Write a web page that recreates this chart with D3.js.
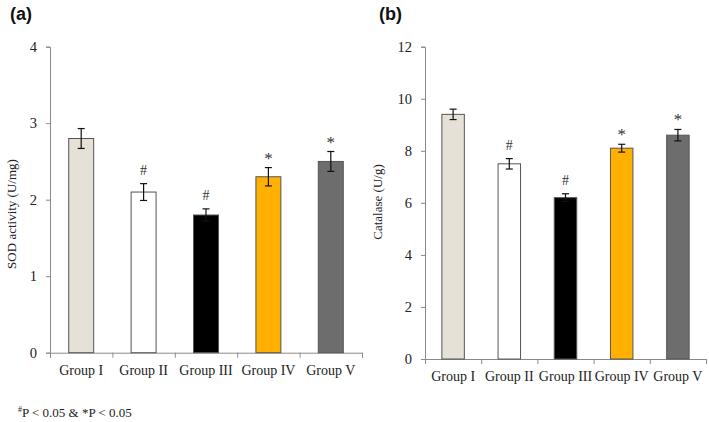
<!DOCTYPE html>
<html><head><meta charset="utf-8">
<script src="https://cdn.jsdelivr.net/npm/d3@7"></script>
<style>
body{margin:0;background:#fff;}
svg{display:block;}
</style></head>
<body>
<svg id="chart" width="709" height="422"></svg>
<script>
const categories = ["Group I","Group II","Group III","Group IV","Group V"];
const sodValues = [2.8, 2.1, 1.8, 2.3, 2.5];
const sodErrors = [0.13, 0.11, 0.08, 0.12, 0.13];
const sodMarks = ["", "#", "#", "*", "*"];
const sodTicks = [0,1,2,3,4];
const catValues = [9.4, 7.5, 6.2, 8.1, 8.6];
const catErrors = [0.2, 0.2, 0.15, 0.15, 0.22];
const catMarks = ["", "#", "#", "*", "*"];
const catTicks = [0,2,4,6,8,10,12];
const barColors = ["#e5e1d6","#ffffff","#000000","#ffb000","#6d6d6d"];

const svg = d3.select("#chart");
const serif = "'Liberation Serif', 'Times New Roman', serif";

function panel(opts){
  const g = svg.append("g");
  const x = d3.scaleBand().domain(categories).range([opts.x0, opts.x1]).paddingInner(0.6).paddingOuter(0.3);
  const y = d3.scaleLinear().domain([0, opts.ymax]).range([opts.yb, opts.yt]);
  const ya = g.append("g").attr("transform",`translate(${opts.x0},0)`)
    .call(d3.axisLeft(y).tickValues(opts.ticks).tickSize(4).tickPadding(9).tickFormat(d3.format("d")));
  ya.select(".domain").attr("stroke","#8a8a8a");
  ya.selectAll(".tick line").attr("stroke","#8a8a8a");
  ya.selectAll("text").attr("font-family",serif).attr("font-size",14.5).attr("fill","#222");
  const xs = d3.scaleLinear().domain([0,5]).range([opts.x0, opts.x1]);
  const xa = g.append("g").attr("transform",`translate(0,${opts.yb})`)
    .call(d3.axisBottom(xs).tickValues([0,1,2,3,4,5]).tickSize(5).tickFormat(""));
  xa.select(".domain").attr("stroke","#8a8a8a");
  xa.selectAll(".tick line").attr("stroke","#8a8a8a");
  g.selectAll(".clabel").data(categories).join("text")
    .attr("x", d => x(d) + x.bandwidth()/2)
    .attr("y", opts.yb + 22)
    .attr("text-anchor","middle")
    .attr("font-family",serif)
    .attr("font-size",14).attr("fill","#222")
    .text(d => d);
  g.selectAll(".bar").data(opts.values).join("rect")
    .attr("x",(d,i)=>x(categories[i]))
    .attr("width", x.bandwidth())
    .attr("y", d=>y(d))
    .attr("height", d=>y(0)-y(d))
    .attr("fill",(d,i)=>barColors[i])
    .attr("stroke","#555").attr("stroke-width",1);
  opts.values.forEach((v,i)=>{
    const cx = x(categories[i]) + x.bandwidth()/2;
    const e = opts.errors[i];
    const col = "#111";
    g.append("line").attr("x1",cx).attr("x2",cx).attr("y1",y(v+e)).attr("y2",y(v-e)).attr("stroke",col).attr("stroke-width",1.2);
    g.append("line").attr("x1",cx-3.5).attr("x2",cx+3.5).attr("y1",y(v+e)).attr("y2",y(v+e)).attr("stroke",col).attr("stroke-width",1.2);
    g.append("line").attr("x1",cx-3.5).attr("x2",cx+3.5).attr("y1",y(v-e)).attr("y2",y(v-e)).attr("stroke",col).attr("stroke-width",1.2);
    if(opts.marks[i]){
      const star = opts.marks[i]==="*";
      g.append("text").attr("x",cx).attr("y",y(v+e)-(star?4:9))
        .attr("text-anchor","middle")
        .attr("font-family",serif)
        .attr("font-size",star?17:14).attr("fill","#333").text(opts.marks[i]);
    }
  });
  g.append("text")
    .attr("transform",`translate(${opts.labelX},${opts.labelY}) rotate(-90)`)
    .attr("text-anchor","middle")
    .attr("font-family",serif)
    .attr("font-size",13).attr("fill","#222")
    .text(opts.ylabel);
  g.append("text").attr("x",opts.letterX).attr("y",20)
    .attr("font-family","'Liberation Sans', Arial, sans-serif")
    .attr("font-weight","bold").attr("font-size",18).attr("fill","#111")
    .text(opts.letter);
}

panel({x0:50, x1:362, yb:352.7, yt:46.7, ymax:4, ticks:sodTicks, values:sodValues, errors:sodErrors, marks:sodMarks,
  ylabel:"SOD activity (U/mg)", labelX:16, labelY:214, letter:"(a)", letterX:10});
panel({x0:425, x1:706, yb:359, yt:46.7, ymax:12, ticks:catTicks, values:catValues, errors:catErrors, marks:catMarks,
  ylabel:"Catalase (U/g)", labelX:382, labelY:202, letter:"(b)", letterX:379});

const fn = svg.append("text").attr("x",18).attr("y",417)
  .attr("font-family",serif)
  .attr("font-size",13).attr("fill","#222");
fn.append("tspan").attr("font-size",8).attr("dy",-5).text("#");
fn.append("tspan").attr("dy",5).text("P < 0.05 & *P < 0.05");
</script>
</body></html>
